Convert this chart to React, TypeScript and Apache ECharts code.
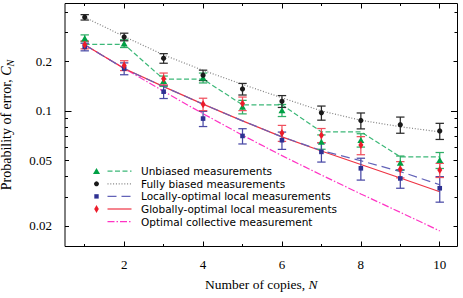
import React, { useEffect, useRef } from 'react';
import * as echarts from 'echarts';

// ---- data ----
const copies = [1, 2, 3, 4, 5, 6, 7, 8, 9, 10];

const unbiasedTheory = [0.254, 0.254, 0.156, 0.156, 0.109, 0.109, 0.0746, 0.0746, 0.0526, 0.0526];
const unbiasedData = [0.277, 0.257, 0.152, 0.159, 0.106, 0.101, 0.065, 0.0665, 0.0484, 0.0503];
const unbiasedErr = [0.013, 0.014, 0.011, 0.011, 0.010, 0.0085, 0.0065, 0.0062, 0.0048, 0.0056];

const biasedTheory = [0.371, 0.2836, 0.2191, 0.1765, 0.1451, 0.1202, 0.1001, 0.0878, 0.0802, 0.0746];
const biasedData = [0.371, 0.282, 0.209, 0.165, 0.136, 0.1145, 0.0975, 0.0875, 0.0825, 0.0756];
const biasedErr = [0.014, 0.015, 0.014, 0.012, 0.011, 0.0095, 0.0096, 0.0097, 0.0093, 0.0085];

const localTheory = [0.2526, 0.181, 0.1406, 0.110, 0.0871, 0.0696, 0.0575, 0.0498, 0.0428, 0.0356];
const localData = [0.245, 0.181, 0.131, 0.0899, 0.0705, 0.0664, 0.0564, 0.0448, 0.0389, 0.0339];
const localErr = [0.013, 0.015, 0.012, 0.0095, 0.0075, 0.008, 0.0075, 0.0068, 0.005, 0.006];

const globalTheory = [0.2526, 0.181, 0.1406, 0.110, 0.0871, 0.0696, 0.0571, 0.0473, 0.0391, 0.0323];
const globalData = [0.2526, 0.189, 0.157, 0.110, 0.111, 0.0735, 0.0712, 0.062, 0.0442, 0.0437];
const globalErr = [0.014, 0.013, 0.013, 0.0095, 0.0105, 0.0082, 0.007, 0.0078, 0.005, 0.0043];

const collectiveTheory = [0.2518, 0.1816, 0.1315, 0.0962, 0.0712, 0.0535, 0.0408, 0.0313, 0.0242, 0.01866];

const xMajorTicks = [2, 4, 6, 8, 10];
const xMinorTicks = [1, 3, 5, 7, 9];
const yLabelTicks = [0.02, 0.05, 0.1, 0.2];
const yMidTicks = [0.02, 0.05, 0.2];
const yDecadeTicks = [0.1];
const yMinorTicks = [0.03, 0.04, 0.06, 0.07, 0.08, 0.09, 0.3, 0.4];

const legendNames = [
  'Unbiased measurements',
  'Fully biased measurements',
  'Locally-optimal local measurements',
  'Globally-optimal local measurements',
  'Optimal collective measurement',
];

const C = {
  green: '#00a045', greenLine: '#3cb878', greenBar: '#2fae66',
  black: '#1a1a1a', blackLine: '#808080', blackBar: '#2a2a2a',
  blue: '#2e3192', blueLine: '#6363b8', blueBar: '#4a4aa6',
  red: '#ec1c2a', redLine: '#ee3344', redBar: '#f0505e',
  magenta: '#ff33c4',
};

const SERIF = '"Liberation Serif", "Times New Roman", serif';
const SANS = '"DejaVu Sans", sans-serif';

const pairs = (vals: number[]) => copies.map((x, i) => [x, vals[i]]);

function errSeries(name: string, vals: number[], errs: number[], color: string) {
  return {
    type: 'custom',
    name,
    z: 3,
    clip: false,
    data: copies.map((x, i) => [x, vals[i] - errs[i], vals[i] + errs[i]]),
    encode: { x: 0, y: [1, 2] },
    renderItem: (_p: any, api: any) => {
      const x = api.value(0);
      const lo = api.coord([x, api.value(1)]);
      const hi = api.coord([x, api.value(2)]);
      const w = 4.2;
      const style = { stroke: color, lineWidth: 1.25, fill: 'none' };
      return {
        type: 'group',
        children: [
          { type: 'line', shape: { x1: lo[0], y1: lo[1], x2: hi[0], y2: hi[1] }, style },
          { type: 'line', shape: { x1: lo[0] - w, y1: lo[1], x2: lo[0] + w, y2: lo[1] }, style },
          { type: 'line', shape: { x1: hi[0] - w, y1: hi[1], x2: hi[0] + w, y2: hi[1] }, style },
        ],
      };
    },
  };
}

function lineSeries(name: string, vals: number[], color: string, type: any, width = 1.2) {
  return {
    type: 'line',
    name,
    z: 2,
    data: pairs(vals),
    showSymbol: false,
    symbol: 'none',
    lineStyle: { color, width, type },
  };
}

function scatterSeries(name: string, vals: number[], color: string, symbol: string, size: any) {
  return {
    type: 'scatter',
    name,
    z: 4,
    data: pairs(vals),
    symbol,
    symbolSize: size,
    itemStyle: { color, opacity: 1 },
  };
}

function xAxisDef(position: string, ticks: number[], len: number, labels: boolean, withName = false): any {
  return {
    type: 'value',
    position,
    min: 0.5,
    max: 10.45,
    axisLine: { show: false },
    splitLine: { show: false },
    axisTick: { show: true, inside: true, length: len, customValues: ticks, lineStyle: { color: '#000', width: 1 } },
    axisLabel: labels
      ? { show: true, customValues: ticks, margin: 11, color: '#000', fontFamily: SERIF, fontSize: 13 }
      : { show: false },
    ...(withName
      ? {
          name: 'Number of copies, {i|N}',
          nameLocation: 'middle',
          nameGap: 31,
          nameTextStyle: {
            color: '#000', fontFamily: SERIF, fontSize: 13.5,
            rich: { i: { fontStyle: 'italic', fontFamily: SERIF, fontSize: 13.5, color: '#000' } },
          },
        }
      : {}),
  };
}

function yAxisDef(position: string, ticks: number[], len: number, labels: boolean, withName = false): any {
  return {
    type: 'log',
    logBase: 10,
    position,
    min: 0.015,
    max: 0.45,
    axisLine: { show: false },
    splitLine: { show: false },
    minorTick: { show: false },
    axisTick: { show: true, inside: true, length: len, customValues: ticks, lineStyle: { color: '#000', width: 1 } },
    axisLabel: labels
      ? {
          show: true, customValues: yLabelTicks, margin: 13, color: '#000', fontFamily: SERIF, fontSize: 13,
          formatter: (v: number) => String(+Number(v).toPrecision(3)),
        }
      : { show: false },
    ...(withName
      ? {
          name: '{a|Probability of error, }{c|C}{s|N}',
          nameLocation: 'middle',
          nameGap: 50,
          nameTextStyle: {
            color: '#000', fontFamily: SERIF, fontSize: 14,
            rich: {
              a: { fontFamily: SERIF, fontSize: 14, color: '#000', lineHeight: 18 },
              c: { fontFamily: SERIF, fontSize: 14, fontStyle: 'italic', color: '#000', lineHeight: 18 },
              s: { fontFamily: SERIF, fontSize: 10, fontStyle: 'italic', color: '#000', lineHeight: 10, verticalAlign: 'bottom' },
            },
          },
        }
      : {}),
  };
}

function legendGraphic() {
  const els: any[] = [];
  const lineColors = [C.greenLine, C.blackLine, C.blueLine, C.redLine, C.magenta];
  const dashes = [[5, 2.5], [1, 1.8], [9, 5], null, [7, 2, 1.5, 2]];
  legendNames.forEach((name, i) => {
    const cy = 171.2 + 12.6 * i;
    if (i === 0) els.push({ type: 'polygon', shape: { points: [[96.5, cy - 3.2], [100, cy + 2.8], [93, cy + 2.8]] }, style: { fill: C.green } });
    if (i === 1) els.push({ type: 'circle', shape: { cx: 96.5, cy, r: 2.5 }, style: { fill: C.black } });
    if (i === 2) els.push({ type: 'rect', shape: { x: 94.3, y: cy - 2.2, width: 4.4, height: 4.4 }, style: { fill: C.blue } });
    if (i === 3) els.push({ type: 'polygon', shape: { points: [[96.5, cy - 4], [98.8, cy], [96.5, cy + 4], [94.2, cy]] }, style: { fill: C.red } });
    els.push({
      type: 'line',
      shape: { x1: 107.5, y1: cy, x2: 131.5, y2: cy },
      style: { stroke: lineColors[i], lineWidth: 1.2, lineDash: dashes[i] || undefined },
    });
    els.push({
      type: 'text',
      x: 141,
      y: cy,
      style: { text: name, fill: '#000', font: `10.5px ${SANS}`, textVerticalAlign: 'middle', textAlign: 'left' },
    });
  });
  return els;
}

export default function App() {
  const ref = useRef<HTMLDivElement>(null);
  useEffect(() => {
    const chart = echarts.init(ref.current!, null, { renderer: 'svg' });
    const option: any = {
      animation: false,
      backgroundColor: '#fff',
      grid: {
        left: 65, right: 5.5, top: 3.5, bottom: 51.5,
        outerBoundsMode: 'none', containLabel: false,
        show: true, borderColor: '#000', borderWidth: 1, backgroundColor: 'transparent',
      },
      xAxis: [
        xAxisDef('bottom', xMajorTicks, 5, true, true),
        xAxisDef('bottom', xMinorTicks, 2.5, false),
        xAxisDef('top', xMajorTicks, 5, false),
        xAxisDef('top', xMinorTicks, 2.5, false),
      ],
      yAxis: [
        yAxisDef('left', yMidTicks, 4, true, true),
        yAxisDef('left', yDecadeTicks, 6.5, false),
        yAxisDef('left', yMinorTicks, 3, false),
        yAxisDef('right', yMidTicks, 4, false),
        yAxisDef('right', yDecadeTicks, 6.5, false),
        yAxisDef('right', yMinorTicks, 3, false),
      ],
      series: [
        lineSeries(legendNames[4], collectiveTheory, C.magenta, [7, 2, 1.5, 2]),
        lineSeries(legendNames[0], unbiasedTheory, C.greenLine, [5, 2.5]),
        lineSeries(legendNames[1], biasedTheory, C.blackLine, [1, 1.8]),
        lineSeries(legendNames[3], globalTheory, C.redLine, 'solid'),
        lineSeries(legendNames[2], localTheory, C.blueLine, [9, 5]),
        errSeries('unbiased error', unbiasedData, unbiasedErr, C.greenBar),
        errSeries('biased error', biasedData, biasedErr, C.blackBar),
        errSeries('local error', localData, localErr, C.blueBar),
        errSeries('global error', globalData, globalErr, C.redBar),
        scatterSeries('unbiased data', unbiasedData, C.green, 'triangle', [7, 6]),
        scatterSeries('biased data', biasedData, C.black, 'circle', 5.2),
        scatterSeries('local data', localData, C.blue, 'rect', 4.6),
        scatterSeries('global data', globalData, C.red, 'diamond', [5, 8]),
      ],
      graphic: legendGraphic(),
    };
    chart.setOption(option);
    return () => chart.dispose();
  }, []);
  return <div ref={ref} style={{ position: 'fixed', left: 0, top: 0, width: 463, height: 298 }} />;
}
